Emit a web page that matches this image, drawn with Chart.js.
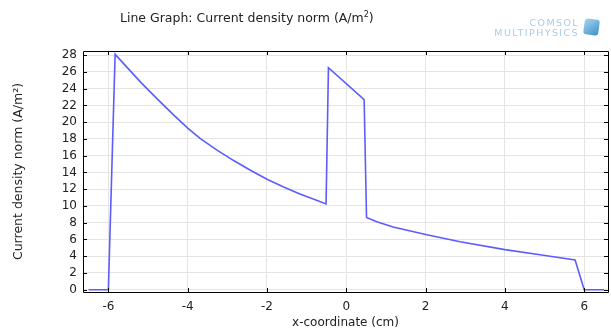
<!DOCTYPE html>
<html>
<head>
<meta charset="utf-8">
<script src="https://cdn.jsdelivr.net/npm/chart.js@4/dist/chart.umd.min.js"></script>
<style>
  html, body { margin: 0; padding: 0; background: #fff; }
  #wrap { position: relative; width: 611px; height: 331px; }
  canvas { position: absolute; left: 0; top: 0; }
  #title { position: absolute; left: 120px; top: 10px; font: 12.5px "DejaVu Sans", sans-serif; color: #222; white-space: nowrap; }
  #title sup { font-size: 8px; }
  #logo { position: absolute; right: 32px; top: 18px; font: 9.5px "DejaVu Sans", sans-serif; color: #a9cbe6; text-align: right; line-height: 10px; letter-spacing: 1.4px; }
  #cube { position: absolute; left: 584px; top: 19px; width: 15px; height: 16px; background: linear-gradient(135deg, #a8d6f0, #3d8fc8); border-radius: 3px; transform: rotate(8deg); }
</style>
</head>
<body>
<div id="wrap">
  <canvas id="c" width="611" height="331"></canvas>
  <div id="title">Line Graph: Current density norm (A/m<sup>2</sup>)</div>
  <div id="logo">COMSOL<br>MULTIPHYSICS</div>
  <div id="cube"></div>
</div>
<script>
// x-coordinate (cm)
const xValues = [-6.5, -6.0, -5.83, -5.5, -5.17, -4.75, -4.33, -4.0, -3.68, -3.27, -2.85, -2.43, -2.0, -1.58, -1.17, -0.75, -0.51,
                 -0.45, 0.45, 0.51, 0.77, 1.18, 2.03, 2.87, 4.0, 4.97, 5.77, 6.0, 6.5];
// Current density norm (A/m^2)
const yValues = [0, 0, 28.1, 26.4, 24.7, 22.7, 20.75, 19.3, 18.05, 16.7, 15.45, 14.3, 13.2, 12.27, 11.43, 10.68, 10.25,
                 26.5, 22.7, 8.62, 8.13, 7.49, 6.56, 5.72, 4.79, 4.11, 3.55, 0, 0];
const xTicks = [-6, -4, -2, 0, 2, 4, 6];
const yTicks = [0, 2, 4, 6, 8, 10, 12, 14, 16, 18, 20, 22, 24, 26, 28];

const points = xValues.map((x, i) => ({ x: x, y: yValues[i] }));

const frame = {
  id: 'frame',
  afterDraw(chart) {
    const ctx = chart.ctx, a = chart.chartArea;
    const xs = chart.scales.x, ys = chart.scales.y;
    ctx.save();
    ctx.strokeStyle = '#000';
    ctx.lineWidth = 1;
    ctx.beginPath();
    ctx.rect(Math.round(a.left) + 0.5, Math.round(a.top) + 0.5, Math.round(a.right - a.left), Math.round(a.bottom - a.top));
    ctx.stroke();
    ctx.beginPath();
    const L = 4;
    xTicks.forEach(v => {
      const p = Math.round(xs.getPixelForValue(v)) + 0.5;
      ctx.moveTo(p, a.bottom); ctx.lineTo(p, a.bottom - L);
      ctx.moveTo(p, a.top); ctx.lineTo(p, a.top + L);
    });
    yTicks.forEach(v => {
      const p = Math.round(ys.getPixelForValue(v)) + 0.5;
      ctx.moveTo(a.left, p); ctx.lineTo(a.left + L, p);
      ctx.moveTo(a.right, p); ctx.lineTo(a.right - L, p);
    });
    ctx.stroke();
    ctx.restore();
  }
};

const font = { family: '"DejaVu Sans", sans-serif', size: 12 };

new Chart(document.getElementById('c'), {
  type: 'line',
  data: {
    datasets: [{
      data: points,
      borderColor: '#5c5cff',
      borderWidth: 1.6,
      pointRadius: 0,
      tension: 0,
      fill: false
    }]
  },
  options: {
    responsive: false,
    animation: false,
    devicePixelRatio: 1,
    layout: { padding: { top: 51, right: 3, left: 0, bottom: 0 } },
    plugins: { legend: { display: false }, tooltip: { enabled: false }, title: { display: false } },
    scales: {
      x: {
        type: 'linear',
        min: -6.64,
        max: 6.6,
        afterBuildTicks: s => { s.ticks = xTicks.map(v => ({ value: v })); },
        afterFit: s => { s.height = 39; },
        grid: { color: '#e4e4e4', drawTicks: false },
        border: { display: false },
        ticks: { font: font, color: '#222', padding: 8, maxRotation: 0, autoSkip: false },
        title: { display: true, text: 'x-coordinate (cm)', font: font, color: '#222', padding: { top: 0, bottom: 1 } }
      },
      y: {
        type: 'linear',
        min: -0.27,
        max: 28.5,
        afterBuildTicks: s => { s.ticks = yTicks.map(v => ({ value: v })); },
        afterFit: s => { s.width = 83; },
        grid: { color: '#e4e4e4', drawTicks: false },
        border: { display: false },
        ticks: { font: font, color: '#222', padding: 6, autoSkip: false },
        title: { display: true, text: 'Current density norm (A/m²)', font: { family: '"DejaVu Sans", sans-serif', size: 12.5 }, color: '#222', padding: { top: 11, bottom: 0 } }
      }
    }
  },
  plugins: [frame]
});
</script>
</body>
</html>
